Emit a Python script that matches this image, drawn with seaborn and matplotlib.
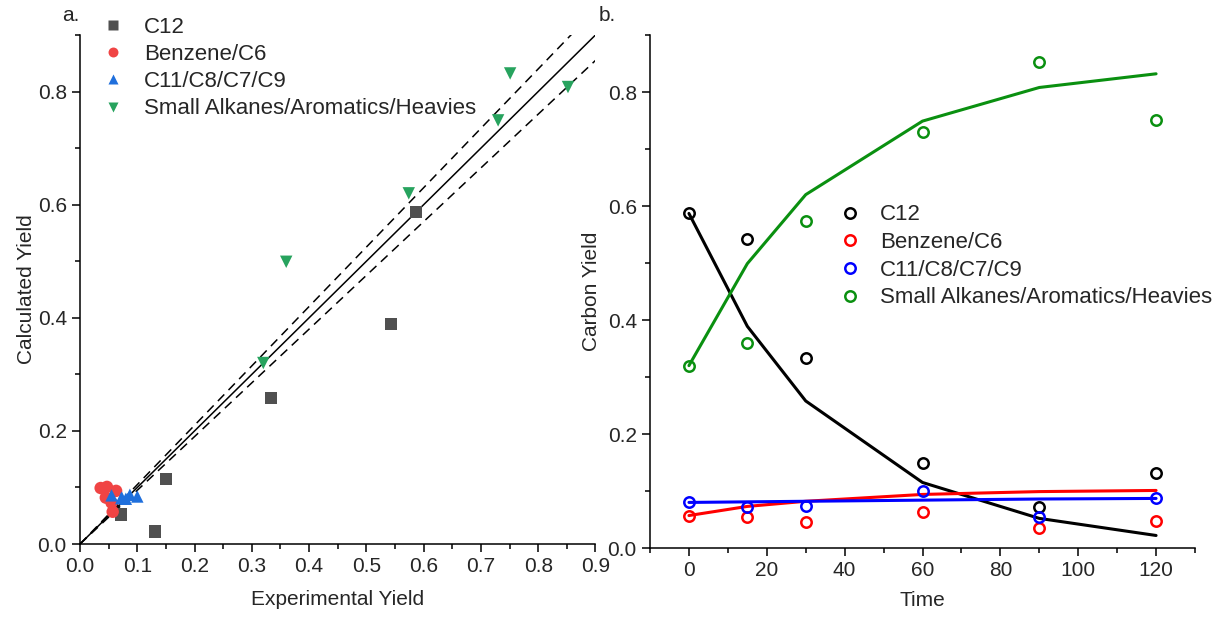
import numpy as np
import pandas as pd
import matplotlib
matplotlib.use("Agg")
import matplotlib.pyplot as plt
from matplotlib.ticker import MultipleLocator, FormatStrFormatter
import seaborn as sns

# Sampling times
time = [0, 15, 30, 60, 90, 120]

# Measured (experimental) carbon yields per lump
exp_c12 = [0.587, 0.543, 0.333, 0.150, 0.072, 0.131]
exp_benz = [0.057, 0.055, 0.045, 0.063, 0.036, 0.047]
exp_c11 = [0.080, 0.072, 0.073, 0.100, 0.055, 0.087]
exp_small = [0.320, 0.360, 0.574, 0.730, 0.852, 0.751]

# Model (calculated) carbon yields per lump
calc_c12 = [0.587, 0.389, 0.258, 0.115, 0.052, 0.022]
calc_benz = [0.057, 0.073, 0.082, 0.094, 0.099, 0.101]
calc_c11 = [0.080, 0.081, 0.082, 0.084, 0.086, 0.087]
calc_small = [0.320, 0.499, 0.620, 0.749, 0.808, 0.832]

labels = ["C12", "Benzene/C6", "C11/C8/C7/C9", "Small Alkanes/Aromatics/Heavies"]

sns.set_theme(style="ticks")
plt.rcParams["font.family"] = ["Liberation Sans", "DejaVu Sans"]
plt.rcParams["axes.linewidth"] = 1.1

fig = plt.figure(figsize=(12.2, 6.17), dpi=100)
ax1 = fig.add_axes([0.0656, 0.1183, 0.4225, 0.8250])
ax2 = fig.add_axes([0.5328, 0.1118, 0.4467, 0.8314])

# ---- a. parity plot ----
parity = pd.DataFrame({
    "Experimental": exp_c12 + exp_benz + exp_c11 + exp_small,
    "Calculated": calc_c12 + calc_benz + calc_c11 + calc_small,
    "Lump": np.repeat(labels, len(time)),
})
pal_a = dict(zip(labels, ["#505050", "#f04444", "#1f6fdc", "#27a35e"]))
mark_a = dict(zip(labels, ["s", "o", "^", "v"]))

diag = np.array([0.0, 0.9])
ax1.plot(diag, diag, color="black", lw=1.1)
ax1.plot(diag, 1.05 * diag, color="black", lw=1.1, ls=(0, (6, 4)))
ax1.plot(diag, 0.95 * diag, color="black", lw=1.1, ls=(0, (6, 4)))

sns.scatterplot(data=parity, x="Experimental", y="Calculated", hue="Lump",
                style="Lump", palette=pal_a, markers=mark_a, s=80,
                edgecolor="none", ax=ax1, zorder=3)
ax1.set_xlim(0, 0.9)
ax1.set_ylim(0, 0.9)
ax1.xaxis.set_major_locator(MultipleLocator(0.1))
ax1.xaxis.set_minor_locator(MultipleLocator(0.05))
ax1.yaxis.set_major_locator(MultipleLocator(0.2))
ax1.yaxis.set_minor_locator(MultipleLocator(0.1))
ax1.xaxis.set_major_formatter(FormatStrFormatter("%.1f"))
ax1.yaxis.set_major_formatter(FormatStrFormatter("%.1f"))
ax1.set_xlabel("Experimental Yield", fontsize=15, labelpad=10)
ax1.set_ylabel("Calculated Yield", fontsize=15, labelpad=1)
ax1.legend(loc="upper left", bbox_to_anchor=(-0.017, 1.075), frameon=False,
           fontsize=16, handletextpad=0.36, labelspacing=0.28, markerscale=0.8,
           title=None)

# ---- b. time profiles ----
pal_b = dict(zip(labels, ["black", "#ff0000", "#0000ff", "#0a9010"]))
profiles = pd.DataFrame({
    "Time": time * 4,
    "Measured": exp_c12 + exp_benz + exp_c11 + exp_small,
    "Model": calc_c12 + calc_benz + calc_c11 + calc_small,
    "Lump": np.repeat(labels, len(time)),
})
sns.lineplot(data=profiles, x="Time", y="Model", hue="Lump", palette=pal_b,
             lw=2.2, ax=ax2, legend=False)
for lab in labels:
    sub = profiles[profiles["Lump"] == lab]
    ax2.plot(sub["Time"], sub["Measured"], ls="none", marker="o", ms=7.5,
             mfc="none", mec=pal_b[lab], mew=1.8, label=lab, zorder=4)
ax2.set_xlim(-10, 130)
ax2.set_ylim(0, 0.9)
ax2.xaxis.set_major_locator(MultipleLocator(20))
ax2.xaxis.set_minor_locator(MultipleLocator(10))
ax2.yaxis.set_major_locator(MultipleLocator(0.2))
ax2.yaxis.set_minor_locator(MultipleLocator(0.1))
ax2.yaxis.set_major_formatter(FormatStrFormatter("%.1f"))
ax2.set_xlabel("Time", fontsize=15, labelpad=8)
ax2.set_ylabel("Carbon Yield", fontsize=15, labelpad=5)
ax2.legend(loc="upper left", bbox_to_anchor=(0.289, 0.709), frameon=False,
           fontsize=16, handletextpad=0.36, labelspacing=0.3)

for ax in (ax1, ax2):
    sns.despine(ax=ax)
    ax.tick_params(axis="both", which="major", direction="out", length=6,
                   width=1.1, labelsize=15, color="black")
    ax.tick_params(axis="both", which="minor", direction="out", length=3.5,
                   width=1.1, color="black")
    for sp in ("left", "bottom"):
        ax.spines[sp].set_color("black")

fig.text(0.051, 0.975, "a.", fontsize=15, ha="left", va="center")
fig.text(0.491, 0.975, "b.", fontsize=15, ha="left", va="center")

fig.savefig("out.png", dpi=100)
